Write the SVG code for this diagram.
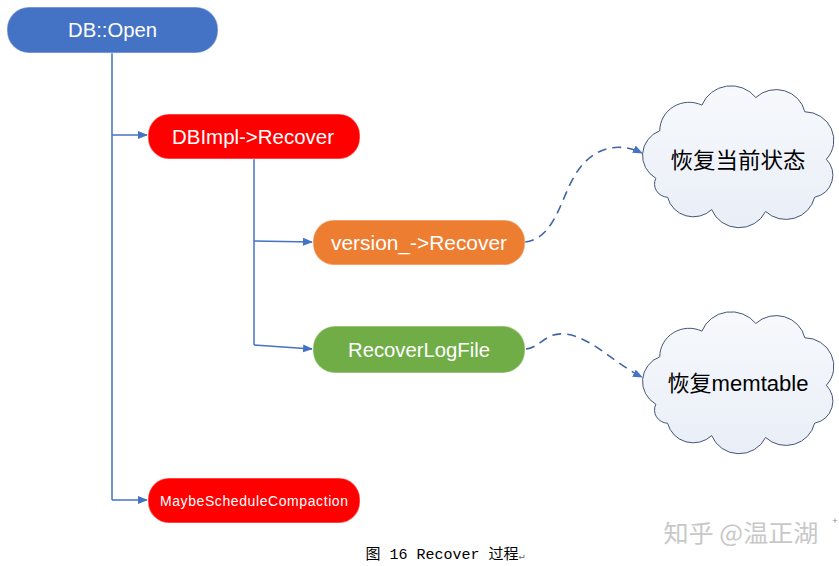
<svg xmlns="http://www.w3.org/2000/svg" width="839" height="566" viewBox="0 0 839 566">
<style>
.node rect{stroke:#ffffff;stroke-opacity:0.35;stroke-width:1.5}
.lbl{font-family:"Liberation Sans","Noto Sans CJK SC",sans-serif;fill:#ffffff;text-anchor:middle;font-size:20px}
.cl{font-family:"Liberation Sans","Noto Sans CJK SC",sans-serif;fill:#000000;text-anchor:middle;font-size:22px}
.solid{fill:none;stroke:#4472C4;stroke-width:1.5}
.dash{fill:none;stroke:#3E64A6;stroke-width:1.6;stroke-dasharray:9 6}
.cloud{fill:url(#cg);stroke:#3D4F72;stroke-width:1}
</style>
<defs>
<marker id="ah" markerWidth="10" markerHeight="10" refX="9" refY="5" orient="auto" markerUnits="userSpaceOnUse">
<path d="M0,1 L10,5 L0,9 Z" fill="#4472C4"/>
</marker>
<linearGradient id="cg" x1="0" y1="0" x2="0" y2="1">
<stop offset="0" stop-color="#F7F9FC"/>
<stop offset="1" stop-color="#E9EEF7"/>
</linearGradient>
<path id="cloudp" d="M8,95 A28,28 0 0 1 12,45 A30,30 0 0 1 55,18 A32,32 0 0 1 110,10 A30,30 0 0 1 160,25 A30,30 0 0 1 182,75 A24,24 0 0 1 170,115 A30,30 0 0 1 120,130 A30,30 0 0 1 65,128 A27,27 0 0 1 20,115 A14,14 0 0 1 8,95 Z"/>
</defs>
<rect width="839" height="566" fill="#ffffff"/>
<g id="connectors">
<path class="solid" d="M112,53 V500"/>
<path class="solid" d="M112,135 H147" marker-end="url(#ah)"/>
<path class="solid" d="M112,500 H147" marker-end="url(#ah)"/>
<path class="solid" d="M254,159 V345"/>
<path class="solid" d="M254,241 L312,242" marker-end="url(#ah)"/>
<path class="solid" d="M254,345 L312,349" marker-end="url(#ah)"/>
<path class="dash" d="M525,242 C555,238 560,200 575,175 C590,150 615,140 642,153" marker-end="url(#ah)"/>
<path class="dash" d="M526,349 C540,348 545,332 565,334 C590,336 615,364 642,377" marker-end="url(#ah)"/>
</g>
<g id="n_open" class="node">
<rect x="7" y="7" width="211" height="46" rx="22" fill="#4472C4"/>
<text class="lbl" x="112.5" y="37" textLength="89" lengthAdjust="spacingAndGlyphs">DB::Open</text>
</g>
<g id="n_dbimpl" class="node">
<rect x="148" y="114" width="212" height="45" rx="21" fill="#FF0000"/>
<text class="lbl" x="253" y="144" textLength="162" lengthAdjust="spacingAndGlyphs">DBImpl-&gt;Recover</text>
</g>
<g id="n_version" class="node">
<rect x="313" y="220" width="212" height="45" rx="21" fill="#ED7D31"/>
<text class="lbl" x="419" y="250" textLength="176" lengthAdjust="spacingAndGlyphs">version_-&gt;Recover</text>
</g>
<g id="n_log" class="node">
<rect x="313" y="326" width="212" height="47" rx="22" fill="#70AD47"/>
<text class="lbl" x="419" y="357" textLength="142" lengthAdjust="spacingAndGlyphs">RecoverLogFile</text>
</g>
<g id="n_compact" class="node">
<rect x="148" y="478" width="212" height="45" rx="21" fill="#FF0000"/>
<text class="lbl" x="254" y="506" style="font-size:14px" textLength="188" lengthAdjust="spacing">MaybeScheduleCompaction</text>
</g>
<g id="c_state">
<use href="#cloudp" class="cloud" transform="translate(648,88) scale(0.98,0.95)"/>
<text class="cl" x="738" y="168" textLength="135" lengthAdjust="spacingAndGlyphs">恢复当前状态</text>
</g>
<g id="c_mem">
<use href="#cloudp" class="cloud" transform="translate(648,314) scale(0.98,0.95)"/>
<text class="cl" x="738" y="391" textLength="141" lengthAdjust="spacingAndGlyphs">恢复memtable</text>
</g>
<text x="741" y="542" style="font-family:'Noto Sans CJK SC','Liberation Sans',sans-serif;font-size:24px;fill:#c8c8c8;text-anchor:middle" textLength="155" lengthAdjust="spacingAndGlyphs">知乎 @温正湖</text>
<text x="835" y="524" style="font-family:'Liberation Sans',sans-serif;font-size:9px;fill:#888;text-anchor:middle">+</text>
<text x="445" y="559" style="font-family:'Liberation Mono','Noto Sans CJK SC',monospace;font-size:15px;fill:#000;text-anchor:middle">图 16 Recover 过程<tspan style="font-size:10px;fill:#666">↵</tspan></text>
</svg>
